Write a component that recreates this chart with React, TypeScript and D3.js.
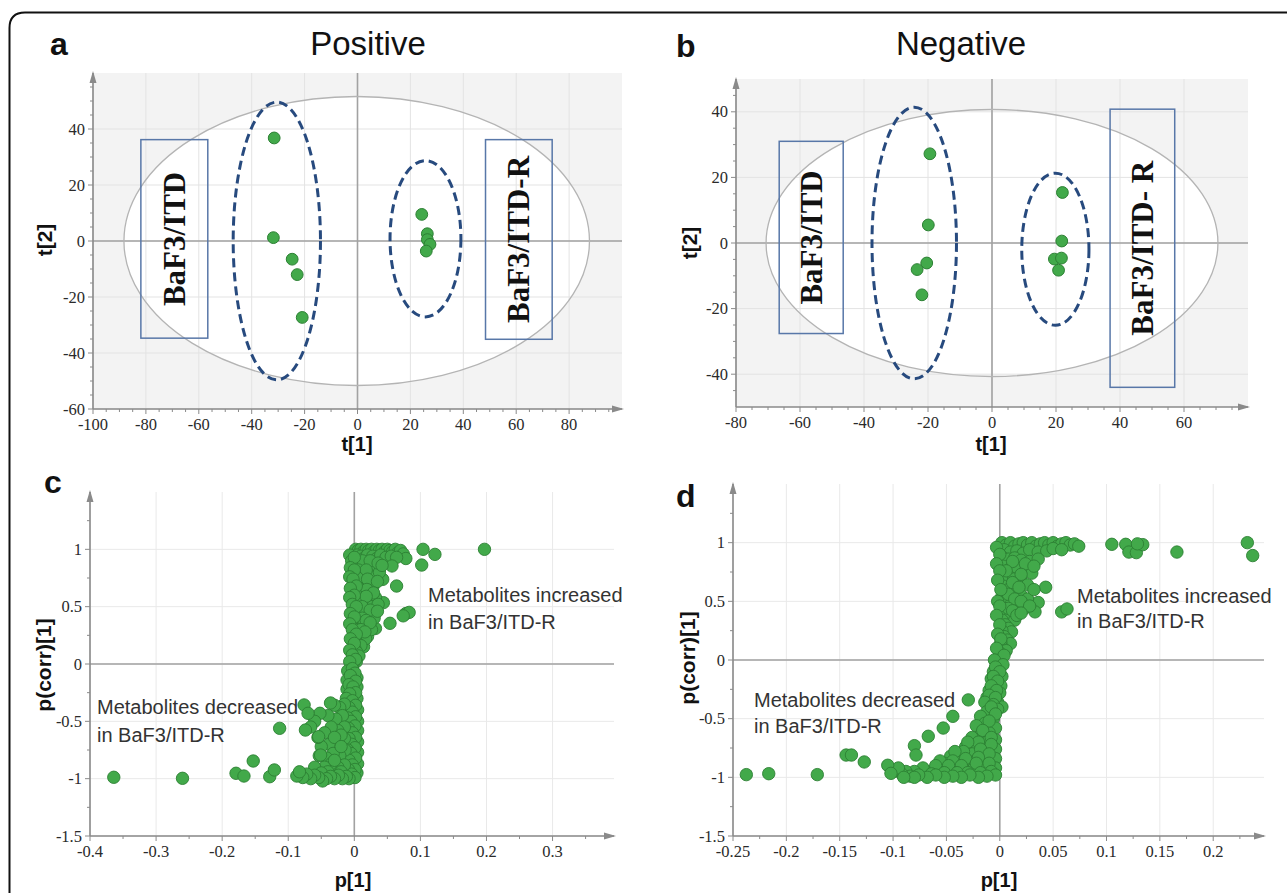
import * as d3 from "d3";

const SANS = "'Liberation Sans', Arial, sans-serif";
const SERIF = "'Liberation Serif', 'Times New Roman', serif";
const GREEN = "#42a94a";
const GREEN_EDGE = "#2c8033";

type Pt = [number, number];

// ---- panel a (positive mode score plot) ----
const posScoresITD: Pt[] = [[-31.5, 36.8], [-31.8, 1.2], [-24.7, -6.5], [-22.8, -12], [-20.9, -27.3]];
const posScoresR: Pt[] = [[24.3, 9.5], [26.4, 2.6], [26.4, 0.5], [27.4, -1.2], [26, -3.6]];
const posHotelling = { cx: -0.3, cy: 0, rx: 88, ry: 51.6 };
const posGroups = [
  { cx: -30.5, cy: 0, rx: 16.5, ry: 49.6 },
  { cx: 25.7, cy: 0.8, rx: 13.4, ry: 27.9 },
];
const posBoxes = [
  { x0: -81.9, x1: -56.6, y0: -34.7, y1: 36.2, label: "BaF3/ITD" },
  { x0: 48.4, x1: 73.6, y0: -35.1, y1: 36.2, label: "BaF3/ITD-R" },
];

// ---- panel b (negative mode score plot) ----
const negScoresITD: Pt[] = [[-19.4, 27.2], [-19.9, 5.5], [-20.4, -6.1], [-23.4, -8.1], [-21.9, -15.8]];
const negScoresR: Pt[] = [[22, 15.4], [21.8, 0.6], [19.5, -4.9], [21.7, -4.6], [20.8, -8.3]];
const negHotelling = { cx: 0, cy: 0, rx: 70.6, ry: 40.7 };
const negGroups = [
  { cx: -24.3, cy: 0, rx: 13.2, ry: 41.4 },
  { cx: 19.8, cy: -1.9, rx: 10.5, ry: 23.2 },
];
const negBoxes = [
  { x0: -66.5, x1: -46.5, y0: -27.6, y1: 31, label: "BaF3/ITD" },
  { x0: 36.9, x1: 57.1, y0: -44, y1: 40.8, label: "BaF3/ITD- R" },
];

// ---- panel c (positive S-plot) ----
const posSPlot: Pt[] = [
  // plateau near +1
  [0.002, 1.0], [0.006, 0.99], [0.01, 1.0], [0.014, 0.98], [0.018, 1.0], [0.022, 0.99], [0.026, 1.0], [0.03, 0.98],
  [0.034, 1.0], [0.038, 0.99], [0.042, 1.0], [0.046, 0.98], [0.05, 1.0], [0.054, 0.99], [0.058, 0.98], [0.062, 1.0],
  [0.066, 0.97], [0.07, 0.99], [0.074, 0.96], [0.078, 0.92],
  [0.004, 0.95], [0.01, 0.94], [0.016, 0.93], [0.02, 0.95], [0.028, 0.94], [0.034, 0.92], [0.04, 0.95], [0.048, 0.93],
  [0.056, 0.94], [0.064, 0.93],
  // outliers, upper right
  [0.104, 1.0], [0.122, 0.956], [0.102, 0.863], [0.197, 1.0], [0.057, 0.855], [0.043, 0.738], [0.064, 0.68],
  [0.044, 0.535], [0.078, 0.44], [0.083, 0.45], [0.074, 0.42], [0.054, 0.355], [0.032, 0.31], [0.02, 0.24], [0.014, 0.15],
  // upper column
  [0.002, 0.88], [0.008, 0.86], [0.014, 0.87], [0.02, 0.85], [0.026, 0.84], [0.032, 0.83],
  [0.003, 0.8], [0.01, 0.78], [0.016, 0.79], [0.024, 0.77], [0.03, 0.76], [0.038, 0.8],
  [0.002, 0.72], [0.008, 0.7], [0.015, 0.71], [0.022, 0.69], [0.028, 0.67],
  [0.003, 0.64], [0.009, 0.62], [0.016, 0.63], [0.024, 0.6], [0.032, 0.58],
  [0.002, 0.56], [0.008, 0.54], [0.014, 0.55], [0.02, 0.52], [0.027, 0.5], [0.036, 0.52],
  [0.003, 0.47], [0.009, 0.45], [0.015, 0.44], [0.022, 0.42], [0.03, 0.4],
  [0.002, 0.38], [0.008, 0.36], [0.014, 0.35], [0.02, 0.33], [0.026, 0.3],
  [0.002, 0.3], [0.007, 0.27], [0.012, 0.25], [0.017, 0.22],
  [0.001, 0.22], [0.005, 0.18], [0.01, 0.16],
  [0.001, 0.13], [0.004, 0.1], [0.007, 0.07], [0.0, 0.05], [0.003, 0.02], [-0.002, 0.0],
  [0.012, 0.9], [0.024, 0.9], [0.036, 0.88], [0.006, 0.82], [0.018, 0.82], [0.042, 0.86], [0.005, 0.75],
  [0.02, 0.74], [0.035, 0.72], [0.006, 0.66], [0.019, 0.65], [0.029, 0.62], [0.005, 0.59], [0.018, 0.59],
  [0.012, 0.5], [0.024, 0.47], [0.035, 0.46], [0.012, 0.4], [0.018, 0.38], [0.024, 0.36], [0.01, 0.3], [0.016, 0.28],
  // core of the column
  [-0.007, 0.95], [-0.004, 0.9], [0.0, 0.93], [-0.006, 0.84], [0.0, 0.82], [-0.007, 0.76], [-0.002, 0.74],
  [0.003, 0.68], [-0.006, 0.66], [0.0, 0.6], [-0.007, 0.58], [-0.003, 0.52], [0.003, 0.5], [-0.006, 0.44],
  [0.0, 0.41], [-0.007, 0.35], [-0.003, 0.3], [0.003, 0.26], [-0.006, 0.22], [0.0, 0.18], [-0.007, 0.12],
  [-0.003, 0.08], [0.002, 0.04], [-0.007, 0.02], [-0.01, -0.06], [0.004, -0.12], [-0.011, -0.14], [0.004, -0.2],
  [-0.011, -0.22], [0.004, -0.3], [-0.013, -0.4], [0.005, -0.4], [-0.012, -0.52], [0.005, -0.5], [-0.013, -0.62],
  [0.005, -0.58], [-0.012, -0.7], [0.005, -0.68], [-0.013, -0.8], [0.005, -0.77], [-0.012, -0.9], [0.005, -0.87],
  [0.004, -0.95], [-0.013, -0.97],
  // lower column
  [-0.003, -0.04], [0.001, -0.08], [-0.006, -0.1], [0.002, -0.15], [-0.008, -0.18], [-0.002, -0.2], [0.002, -0.25],
  [-0.007, -0.26], [-0.012, -0.3], [-0.003, -0.32], [0.002, -0.36], [-0.008, -0.38], [-0.003, -0.42], [0.002, -0.46],
  [-0.01, -0.47], [-0.005, -0.5], [0.001, -0.54], [-0.009, -0.56], [-0.003, -0.6], [0.002, -0.64], [-0.008, -0.65],
  [-0.004, -0.7], [0.001, -0.73], [-0.01, -0.75], [-0.005, -0.78], [0.002, -0.82], [-0.008, -0.84], [-0.003, -0.88],
  [0.001, -0.92], [-0.009, -0.92], [-0.004, -0.96], [0.001, -0.99], [-0.008, -1.0],
  // left flank
  [-0.015, -0.35], [-0.022, -0.38], [-0.03, -0.36], [-0.036, -0.34], [-0.018, -0.45], [-0.028, -0.48], [-0.04, -0.45],
  [-0.052, -0.43], [-0.015, -0.55], [-0.025, -0.58], [-0.035, -0.55], [-0.045, -0.6], [-0.06, -0.5], [-0.066, -0.55],
  [-0.015, -0.65], [-0.025, -0.68], [-0.038, -0.7], [-0.05, -0.72], [-0.055, -0.64], [-0.014, -0.75], [-0.022, -0.8],
  [-0.032, -0.78], [-0.042, -0.82], [-0.053, -0.8], [-0.015, -0.88], [-0.025, -0.9], [-0.035, -0.87], [-0.045, -0.9],
  [-0.06, -0.9], [-0.02, -0.62], [-0.03, -0.64], [-0.02, -0.72], [-0.03, -0.84], [-0.02, -0.94], [-0.04, -0.94],
  [-0.05, -0.95],
  // bottom band near -1
  [-0.012, -0.98], [-0.018, -1.0], [-0.024, -0.97], [-0.03, -1.0], [-0.036, -0.98], [-0.042, -1.0], [-0.048, -1.02],
  [-0.054, -0.99], [-0.06, -0.97], [-0.066, -1.0], [-0.072, -0.96], [-0.078, -0.99], [-0.087, -0.977], [-0.083, -0.94],
  // outliers, lower left
  [-0.364, -0.988], [-0.26, -0.997], [-0.179, -0.953], [-0.167, -0.977], [-0.153, -0.846], [-0.128, -0.983],
  [-0.121, -0.924], [-0.113, -0.561], [-0.076, -0.357], [-0.074, -0.576], [-0.054, -0.634], [-0.051, -0.794],
  [-0.07, -0.43],
];

// ---- panel d (negative S-plot) ----
const negSPlot: Pt[] = [
  [0.002, 1.0], [0.006, 0.98], [0.01, 1.0], [0.014, 0.97], [0.018, 0.99], [0.022, 1.0], [0.026, 0.98], [0.03, 1.0],
  [0.034, 0.97], [0.038, 0.99], [0.042, 1.0], [0.046, 0.98], [0.05, 1.0], [0.054, 0.97], [0.058, 0.99], [0.062, 1.0],
  [0.066, 0.98], [0.07, 0.99], [0.074, 0.97],
  [0.004, 0.94], [0.01, 0.92], [0.016, 0.93], [0.022, 0.91], [0.028, 0.94], [0.036, 0.92], [0.044, 0.93], [0.05, 0.95],
  [0.058, 0.94],
  [0.105, 0.986], [0.118, 0.986], [0.121, 0.92], [0.128, 0.915], [0.134, 0.983], [0.129, 0.99], [0.166, 0.92],
  [0.232, 1.0], [0.237, 0.89], [0.043, 0.62], [0.036, 0.49], [0.033, 0.41], [0.058, 0.41], [0.063, 0.435],
  [0.002, 0.88], [0.008, 0.86], [0.014, 0.87], [0.02, 0.85], [0.028, 0.84], [0.036, 0.86],
  [0.003, 0.8], [0.01, 0.78], [0.016, 0.79], [0.024, 0.76], [0.03, 0.74],
  [0.002, 0.72], [0.007, 0.7], [0.013, 0.69], [0.02, 0.68], [0.026, 0.64],
  [0.003, 0.63], [0.008, 0.6], [0.014, 0.58], [0.02, 0.55], [0.026, 0.52],
  [0.002, 0.54], [0.006, 0.5], [0.011, 0.48], [0.016, 0.45], [0.022, 0.43],
  [0.002, 0.44], [0.006, 0.4], [0.01, 0.37], [0.014, 0.34],
  [0.002, 0.34], [0.005, 0.3], [0.008, 0.27], [0.011, 0.24],
  [0.002, 0.25], [0.004, 0.2], [0.007, 0.17], [0.01, 0.14],
  [0.001, 0.15], [0.003, 0.1], [0.006, 0.08],
  [0.0, 0.06], [0.002, 0.02], [-0.002, -0.02],
  [0.012, 0.84], [0.024, 0.82], [0.032, 0.8], [0.006, 0.76], [0.02, 0.73], [0.012, 0.66], [0.018, 0.62],
  [0.032, 0.6], [0.008, 0.56], [0.014, 0.52], [0.02, 0.5], [0.008, 0.44], [0.012, 0.42], [0.028, 0.46],
  [0.016, 0.38], [0.02, 0.4],
  // core of the column
  [-0.003, 0.96], [0.0, 0.9], [-0.003, 0.82], [0.0, 0.76], [-0.002, 0.68], [0.001, 0.6], [-0.002, 0.5],
  [0.0, 0.46], [-0.003, 0.38], [0.0, 0.3], [-0.002, 0.22], [0.001, 0.18], [-0.003, 0.1], [0.004, 0.04],
  [-0.005, 0.0], [0.003, -0.04], [-0.006, -0.1], [0.002, -0.14], [-0.008, -0.16], [0.001, -0.22], [-0.01, -0.26],
  [0.0, -0.28], [-0.012, -0.32], [-0.002, -0.36], [0.002, -0.4],
  [-0.004, -0.06], [0.0, -0.1], [-0.006, -0.14], [-0.002, -0.18], [-0.008, -0.22], [-0.003, -0.26], [-0.01, -0.3],
  [-0.004, -0.32], [-0.014, -0.36], [-0.006, -0.38], [-0.002, -0.42], [-0.012, -0.44], [-0.018, -0.48], [-0.006, -0.5],
  [-0.014, -0.54], [-0.022, -0.56], [-0.004, -0.58], [-0.01, -0.62], [-0.018, -0.64], [-0.026, -0.66], [-0.004, -0.68],
  [-0.012, -0.7], [-0.022, -0.72], [-0.032, -0.74], [-0.004, -0.76], [-0.014, -0.78], [-0.026, -0.8], [-0.036, -0.8],
  [-0.046, -0.82], [-0.004, -0.84], [-0.016, -0.86], [-0.028, -0.87], [-0.04, -0.86], [-0.052, -0.88], [-0.004, -0.92],
  [-0.014, -0.93], [-0.024, -0.92], [-0.034, -0.93], [-0.046, -0.94], [-0.058, -0.93], [-0.068, -0.95],
  // lower mass
  [-0.008, -0.4], [-0.004, -0.46], [-0.01, -0.52], [-0.016, -0.6], [-0.008, -0.66], [-0.02, -0.7], [-0.03, -0.7],
  [-0.008, -0.72], [-0.018, -0.76], [-0.034, -0.78], [-0.042, -0.78], [-0.01, -0.8], [-0.02, -0.83], [-0.032, -0.84],
  [-0.044, -0.86], [-0.056, -0.86], [-0.01, -0.88], [-0.022, -0.88], [-0.036, -0.9], [-0.048, -0.9], [-0.06, -0.9],
  [-0.072, -0.92], [-0.008, -0.95], [-0.018, -0.96], [-0.03, -0.96], [-0.04, -0.96], [-0.052, -0.96], [-0.064, -0.97],
  [-0.08, -0.95], [-0.088, -0.95],
  // bottom band
  [-0.004, -0.98], [-0.012, -0.99], [-0.02, -1.0], [-0.028, -0.98], [-0.036, -1.0], [-0.044, -0.99], [-0.052, -1.0],
  [-0.06, -0.98], [-0.068, -1.0], [-0.076, -0.98], [-0.084, -0.99], [-0.092, -0.97], [-0.1, -0.95], [-0.095, -0.92],
  [-0.08, -1.0], [-0.09, -1.0],
  // outliers
  [-0.2375, -0.977], [-0.2165, -0.969], [-0.171, -0.977], [-0.144, -0.81], [-0.139, -0.81], [-0.127, -0.869],
  [-0.105, -0.897], [-0.102, -0.966], [-0.08, -0.73], [-0.0785, -0.81], [-0.067, -0.65], [-0.053, -0.58],
  [-0.044, -0.48], [-0.0295, -0.34],
];

// ---- tick values ----
const posXTicks = [-100, -80, -60, -40, -20, 0, 20, 40, 60, 80];
const posYTicks = [-60, -40, -20, 0, 20, 40];
const negXTicks = [-80, -60, -40, -20, 0, 20, 40, 60];
const negYTicks = [-40, -20, 0, 20, 40];
const posLoadTicks = [-0.4, -0.3, -0.2, -0.1, 0, 0.1, 0.2, 0.3];
const negLoadTicks = [-0.25, -0.2, -0.15, -0.1, -0.05, 0, 0.05, 0.1, 0.15, 0.2];
const corrTicks = [-1.5, -1, -0.5, 0, 0.5, 1];
const corrMinor = [-1.25, -0.75, -0.25, 0.25, 0.75, 1.25];

const AXIS = "#8a8a8a";

function Axes({ xs, ys, xMajor, yMajor, xMinor, yMinor }: any) {
  const [xl, xr] = xs.range();
  const [yb, yt] = ys.range();
  return (
    <g>
      <line x1={xl} x2={xr} y1={yb} y2={yb} stroke={AXIS} strokeWidth={1.6} />
      <path d={`M${xr + 2},${yb} L${xr - 10},${yb - 3.5} L${xr - 10},${yb + 3.5} Z`} fill={AXIS} />
      <line x1={xl} x2={xl} y1={yb} y2={yt} stroke={AXIS} strokeWidth={1.6} />
      <path d={`M${xl},${yt - 2} L${xl - 3.5},${yt + 10} L${xl + 3.5},${yt + 10} Z`} fill={AXIS} />
      {xMinor.map((t: number) => (
        <line key={`xm${t}`} x1={xs(t)} x2={xs(t)} y1={yb} y2={yb + 3} stroke={AXIS} />
      ))}
      {yMinor.map((t: number) => (
        <line key={`ym${t}`} x1={xl - 3} x2={xl} y1={ys(t)} y2={ys(t)} stroke={AXIS} />
      ))}
      {xMajor.map((t: number) => (
        <g key={`xM${t}`}>
          <line x1={xs(t)} x2={xs(t)} y1={yb} y2={yb + 5} stroke={AXIS} />
          <text x={xs(t)} y={yb + 21} textAnchor="middle" fontFamily={SERIF} fontSize={16.5} fill="#2a2a2a">
            {String(t)}
          </text>
        </g>
      ))}
      {yMajor.map((t: number) => (
        <g key={`yM${t}`}>
          <line x1={xl - 5} x2={xl} y1={ys(t)} y2={ys(t)} stroke={AXIS} />
          <text x={xl - 8} y={ys(t) + 5.5} textAnchor="end" fontFamily={SERIF} fontSize={16.5} fill="#2a2a2a">
            {String(t)}
          </text>
        </g>
      ))}
    </g>
  );
}

function Grid({ xs, ys, xMajor, yMajor, color }: any) {
  const [xl, xr] = xs.range();
  const [yb, yt] = ys.range();
  return (
    <g>
      {xMajor.map((t: number) => (
        <line key={`gx${t}`} x1={xs(t)} x2={xs(t)} y1={yt} y2={yb} stroke={color} strokeWidth={1} />
      ))}
      {yMajor.map((t: number) => (
        <line key={`gy${t}`} x1={xl} x2={xr} y1={ys(t)} y2={ys(t)} stroke={color} strokeWidth={1} />
      ))}
      <line x1={xs(0)} x2={xs(0)} y1={yt} y2={yb} stroke="#a2a2a2" strokeWidth={1.6} />
      <line x1={xl} x2={xr} y1={ys(0)} y2={ys(0)} stroke="#a2a2a2" strokeWidth={1.6} />
    </g>
  );
}

function ScorePanel({ xs, ys, xMajor, yMajor, xMinor, yMinor, hot, groups, boxes, points }: any) {
  const [xl, xr] = xs.range();
  const [yb, yt] = ys.range();
  const kx = xs(1) - xs(0);
  const ky = ys(0) - ys(1);
  return (
    <g>
      <rect x={xl} y={yt} width={xr - xl} height={yb - yt} fill="#f3f3f3" />
      <ellipse cx={xs(hot.cx)} cy={ys(hot.cy)} rx={hot.rx * kx} ry={hot.ry * ky} fill="#ffffff" />
      <Grid xs={xs} ys={ys} xMajor={xMajor} yMajor={yMajor} color="#e3e3e3" />
      <ellipse cx={xs(hot.cx)} cy={ys(hot.cy)} rx={hot.rx * kx} ry={hot.ry * ky} fill="none" stroke="#b4b4b4" strokeWidth={1.3} />
      {boxes.map((b: any) => {
        const cx = (xs(b.x0) + xs(b.x1)) / 2;
        const cy = (ys(b.y0) + ys(b.y1)) / 2;
        return (
          <g key={b.label}>
            <rect x={xs(b.x0)} y={ys(b.y1)} width={xs(b.x1) - xs(b.x0)} height={ys(b.y0) - ys(b.y1)} fill="none" stroke="#5877a8" strokeWidth={1.5} />
            <text
              x={cx}
              y={cy}
              transform={`rotate(-90, ${cx}, ${cy})`}
              textAnchor="middle"
              dominantBaseline="central"
              fontFamily={SERIF}
              fontWeight="bold"
              fontSize={31}
              fill="#111"
            >
              {b.label}
            </text>
          </g>
        );
      })}
      {groups.map((g: any, i: number) => (
        <ellipse
          key={i}
          cx={xs(g.cx)}
          cy={ys(g.cy)}
          rx={g.rx * kx}
          ry={g.ry * ky}
          fill="none"
          stroke="#274a7e"
          strokeWidth={3}
          strokeDasharray="9 5"
        />
      ))}
      {points.map((p: Pt, i: number) => (
        <circle key={i} cx={xs(p[0])} cy={ys(p[1])} r={5.9} fill={GREEN} stroke={GREEN_EDGE} strokeWidth={1} />
      ))}
      <Axes xs={xs} ys={ys} xMajor={xMajor} yMajor={yMajor} xMinor={xMinor} yMinor={yMinor} />
    </g>
  );
}

function SPlotPanel({ xs, ys, xMajor, xMinor, points }: any) {
  return (
    <g>
      <Grid xs={xs} ys={ys} xMajor={xMajor} yMajor={corrTicks} color="#e9e9e9" />
      {points.map((p: Pt, i: number) => (
        <circle key={i} cx={xs(p[0])} cy={ys(p[1])} r={6.2} fill={GREEN} stroke={GREEN_EDGE} strokeWidth={0.9} />
      ))}
      <Axes xs={xs} ys={ys} xMajor={xMajor} yMajor={corrTicks} xMinor={xMinor} yMinor={corrMinor} />
    </g>
  );
}

function Rot({ x, y, children }: any) {
  return (
    <text
      x={x}
      y={y}
      transform={`rotate(-90, ${x}, ${y})`}
      textAnchor="middle"
      dominantBaseline="central"
      fontFamily={SANS}
      fontWeight="bold"
      fontSize={21}
      fill="#111"
    >
      {children}
    </text>
  );
}

export default function App() {
  const xa = d3.scaleLinear().domain([-100, 100]).range([93, 622]);
  const ya = d3.scaleLinear().domain([-60, 60]).range([409, 73]);
  const xb = d3.scaleLinear().domain([-80, 80]).range([736, 1248]);
  const yb = d3.scaleLinear().domain([-50, 50]).range([407, 79]);
  const xc = d3.scaleLinear().domain([-0.4, 0.393]).range([90, 614]);
  const yc = d3.scaleLinear().domain([-1.5, 1.5]).range([836, 492]);
  const xd = d3.scaleLinear().domain([-0.25, 0.2476]).range([733, 1264]);
  const yd = d3.scaleLinear().domain([-1.5, 1.5]).range([836, 484]);

  const minor = (a: number, b: number, step: number, major: number) =>
    d3.range(a, b + 1e-9, step).filter((v) => Math.abs(v / major - Math.round(v / major)) > 1e-6);

  const annot = { fontFamily: SANS, fontSize: 20, fill: "#333" };
  const axTitle = { textAnchor: "middle" as const, fontFamily: SANS, fontWeight: "bold", fontSize: 20, fill: "#111" };

  return (
    <svg
      width={1287}
      height={893}
      style={{ position: "absolute", left: 0, top: 0, background: "#fff" }}
    >
      <path d="M9.5,893 V28 Q9.5,12.5 25,12.5 H1287" fill="none" stroke="#111" strokeWidth={2} />

      <text x={50} y={55} fontFamily={SANS} fontWeight="bold" fontSize={32} fill="#111">a</text>
      <text x={368} y={55} textAnchor="middle" fontFamily={SANS} fontSize={33} fill="#111">Positive</text>
      <text x={676} y={57} fontFamily={SANS} fontWeight="bold" fontSize={32} fill="#111">b</text>
      <text x={961} y={55} textAnchor="middle" fontFamily={SANS} fontSize={33} fill="#111">Negative</text>
      <text x={44} y={493} fontFamily={SANS} fontWeight="bold" fontSize={32} fill="#111">c</text>
      <text x={676} y={507} fontFamily={SANS} fontWeight="bold" fontSize={32} fill="#111">d</text>

      <ScorePanel
        xs={xa}
        ys={ya}
        xMajor={posXTicks}
        yMajor={posYTicks}
        xMinor={minor(-95, 95, 5, 20)}
        yMinor={minor(-55, 55, 5, 20)}
        hot={posHotelling}
        groups={posGroups}
        boxes={posBoxes}
        points={[...posScoresITD, ...posScoresR]}
      />
      <ScorePanel
        xs={xb}
        ys={yb}
        xMajor={negXTicks}
        yMajor={negYTicks}
        xMinor={minor(-75, 75, 5, 20)}
        yMinor={minor(-45, 45, 5, 20)}
        hot={negHotelling}
        groups={negGroups}
        boxes={negBoxes}
        points={[...negScoresITD, ...negScoresR]}
      />
      <SPlotPanel xs={xc} ys={yc} xMajor={posLoadTicks} xMinor={minor(-0.35, 0.35, 0.1, 1)} points={posSPlot} />
      <SPlotPanel xs={xd} ys={yd} xMajor={negLoadTicks} xMinor={minor(-0.225, 0.225, 0.05, 1)} points={negSPlot} />

      <text x={357} y={451} {...axTitle}>t[1]</text>
      <Rot x={44} y={240}>t[2]</Rot>
      <text x={991} y={451} {...axTitle}>t[1]</text>
      <Rot x={689} y={243}>t[2]</Rot>
      <text x={353} y={887} {...axTitle}>p[1]</text>
      <Rot x={43} y={665}>p(corr)[1]</Rot>
      <text x={999} y={887} {...axTitle}>p[1]</text>
      <Rot x={687} y={658}>p(corr)[1]</Rot>

      <text x={428} y={602} {...annot}>Metabolites increased</text>
      <text x={428} y={629} {...annot}>in BaF3/ITD-R</text>
      <text x={97} y={714} {...annot}>Metabolites decreased</text>
      <text x={97} y={742} {...annot}>in BaF3/ITD-R</text>
      <text x={1077} y={603} {...annot}>Metabolites increased</text>
      <text x={1077} y={628} {...annot}>in BaF3/ITD-R</text>
      <text x={754} y={707} {...annot}>Metabolites decreased</text>
      <text x={754} y={733} {...annot}>in BaF3/ITD-R</text>
    </svg>
  );
}
